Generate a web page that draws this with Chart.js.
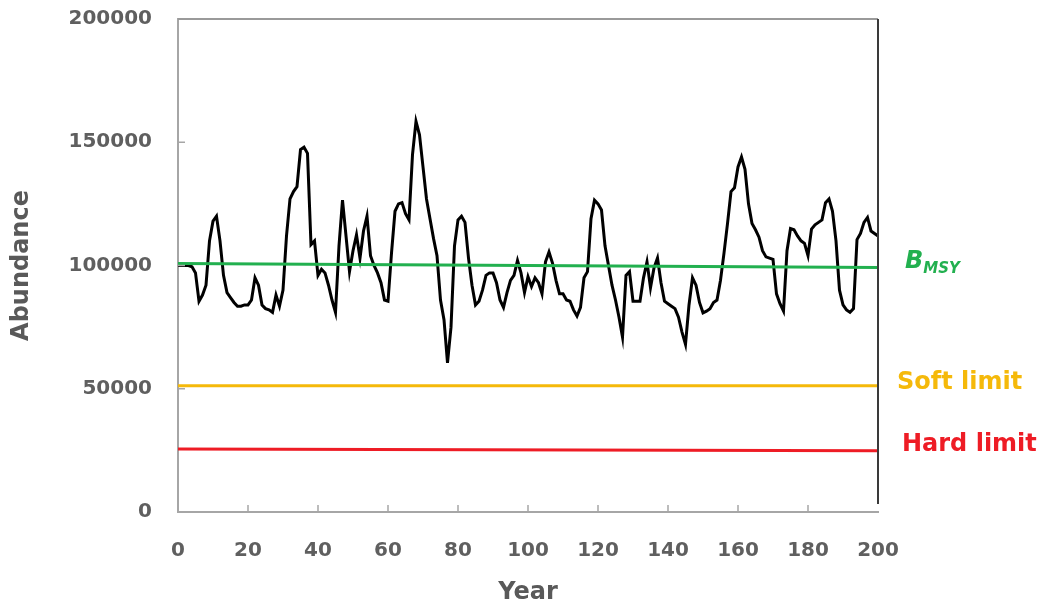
<!DOCTYPE html>
<html>
<head>
<meta charset="utf-8">
<script src="https://cdn.jsdelivr.net/npm/chart.js@4.4.1/dist/chart.umd.min.js"></script>
<style>
  html, body { margin: 0; padding: 0; background: #ffffff; }
  #wrap { width: 1048px; height: 605px; }
</style>
</head>
<body>
<div id="wrap"><canvas id="c" width="1048" height="605"></canvas></div>
<script>
// Years 0..200 (x categories)
const years = Array.from({length: 201}, (_, i) => i);

// Simulated abundance (one value per year)
const abundance = [
  100000,100000,100000,100000,99500,97000,85500,88000,92000,110000,
  118000,120000,110000,96000,89000,87000,85000,83500,83500,84000,
  84000,86000,95000,92000,84000,82500,82000,81000,88000,83500,
  90000,112000,127000,130000,132000,147000,148000,145500,108500,110000,
  96000,98500,97000,92000,86000,81000,108000,126500,112000,97500,
  106000,112500,103000,114000,120000,104000,100000,97000,93000,86000,
  85500,105000,122000,125000,125500,121000,118500,145000,158500,153000,
  140000,127000,119000,111000,104000,86000,78000,60500,75000,108000,
  118500,120000,117500,103000,92000,84000,85500,90000,96000,97000,
  97000,93000,86000,83000,89000,94000,96000,102000,97000,89000,
  95500,91500,95000,93000,88500,101500,105500,101000,94000,88500,
  88500,86000,85500,82000,79500,83000,95000,97500,119000,126500,
  125000,122500,108000,100000,92000,86000,79000,71000,96000,97500,
  85500,85500,85500,95000,101500,91000,99000,103000,93000,85500,
  84500,83500,82500,79000,73000,68000,84000,95000,92000,85000,
  80800,81500,82500,85000,86000,94000,105000,117000,130000,131500,
  140000,144000,139000,125000,117000,114500,111500,106000,103500,103000,
  102500,88500,84500,81500,106000,115000,114500,112000,110000,109000,
  104000,114800,116500,117500,118500,125500,127000,122000,110000,90000,
  84000,82000,81000,82500,110500,113000,117500,119500,114000,113000,
  112000
];

// Reference levels (start year, end year)
const refYears = [0, 200];
const bmsy = [100800, 99200];
const softLimit = [51200, 51200];
const hardLimit = [25600, 24800];

const yTicks = [0, 50000, 100000, 150000, 200000];
const xTicks = [0, 20, 40, 60, 80, 100, 120, 140, 160, 180, 200];

const refLabels = [
  { text: 'B', sub: 'MSY', color: '#22b04f', dataset: 1, dx: 27, dy: -6 },
  { text: 'Soft limit', color: '#f5b90a', dataset: 2, dx: 19, dy: -3 },
  { text: 'Hard limit', color: '#ee1c25', dataset: 3, dx: 24, dy: -6 }
];

const pts = (xs, ys) => ys.map((v, i) => ({ x: xs[i], y: v }));

const TICK_COLOR = '#5f5f5f';
const AXIS_COLOR = '#a6a6a6';
const FONT = '"DejaVu Sans", sans-serif';

const framePlugin = {
  id: 'frame',
  afterDraw(chart) {
    const ctx = chart.ctx;
    const a = chart.chartArea;
    const xs = chart.scales.x, ys = chart.scales.y;
    ctx.save();
    // top and right frame
    ctx.lineWidth = 2;
    ctx.strokeStyle = '#9a9a9a';
    ctx.beginPath(); ctx.moveTo(a.left, a.top); ctx.lineTo(a.right, a.top); ctx.stroke();
    ctx.strokeStyle = '#3a3a3a';
    ctx.beginPath(); ctx.moveTo(a.right, a.top); ctx.lineTo(a.right, a.bottom - 8); ctx.stroke();
    // inward tick marks
    ctx.strokeStyle = AXIS_COLOR;
    ctx.lineWidth = 1.5;
    xTicks.forEach(t => {
      if (t === 0 || t === 200) return;
      const px = xs.getPixelForValue(t);
      ctx.beginPath(); ctx.moveTo(px, a.bottom); ctx.lineTo(px, a.bottom - 7); ctx.stroke();
    });
    yTicks.forEach(t => {
      if (t === 0 || t === 200000) return;
      const py = ys.getPixelForValue(t);
      ctx.beginPath(); ctx.moveTo(a.left, py); ctx.lineTo(a.left + 7, py); ctx.stroke();
    });
    // right-hand labels
    refLabels.forEach(l => {
      const data = chart.data.datasets[l.dataset].data;
      const last = data[data.length - 1];
      const px = xs.getPixelForValue(last.x) + l.dx;
      const py = ys.getPixelForValue(last.y) + l.dy;
      ctx.fillStyle = l.color;
      ctx.textBaseline = 'middle';
      ctx.textAlign = 'left';
      if (l.sub) {
        ctx.font = 'italic bold 24px ' + FONT;
        ctx.fillText(l.text, px, py);
        const w = ctx.measureText(l.text).width;
        ctx.font = 'italic bold 15px ' + FONT;
        ctx.fillText(l.sub, px + w, py + 8);
      } else {
        ctx.font = 'bold 24px ' + FONT;
        ctx.fillText(l.text, px, py);
      }
    });
    ctx.restore();
  }
};

new Chart(document.getElementById('c'), {
  type: 'line',
  data: {
    datasets: [
      { label: 'Abundance', data: pts(years, abundance), borderColor: '#000000', borderWidth: 3, pointRadius: 0, tension: 0, order: 2 },
      { label: 'BMSY', data: pts(refYears, bmsy), borderColor: '#22b04f', borderWidth: 3, pointRadius: 0, order: 1 },
      { label: 'Soft limit', data: pts(refYears, softLimit), borderColor: '#f5b90a', borderWidth: 3, pointRadius: 0, order: 1 },
      { label: 'Hard limit', data: pts(refYears, hardLimit), borderColor: '#ee1c25', borderWidth: 3, pointRadius: 0, order: 1 }
    ]
  },
  options: {
    responsive: false,
    animation: false,
    layout: { padding: { left: 0, right: 170, top: 19, bottom: 0 }, autoPadding: false },
    plugins: { legend: { display: false }, tooltip: { enabled: false } },
    scales: {
      x: {
        type: 'linear', min: 0, max: 200,
        afterFit: s => { s.height = 93; s.paddingLeft = 0; s.paddingRight = 0; },
        afterBuildTicks: s => { s.ticks = xTicks.map(v => ({ value: v })); },
        grid: { display: false, drawTicks: false },
        border: { display: true, color: AXIS_COLOR, width: 2 },
        ticks: { color: TICK_COLOR, font: { family: FONT, size: 20, weight: 'bold' }, padding: 27, maxRotation: 0 },
        title: { display: true, text: 'Year', color: '#595959', font: { family: FONT, size: 24, weight: 'bold', lineHeight: 1 }, padding: { top: 0, bottom: 0 } }
      },
      y: {
        min: 0, max: 200000,
        afterFit: s => { s.width = 178; s.paddingTop = 0; s.paddingBottom = 0; },
        afterBuildTicks: s => { s.ticks = yTicks.map(v => ({ value: v })); },
        grid: { display: false, drawTicks: false },
        border: { display: true, color: AXIS_COLOR, width: 2 },
        ticks: { color: TICK_COLOR, font: { family: FONT, size: 20, weight: 'bold' }, padding: 26, callback: v => String(v) },
        title: { display: true, text: 'Abundance', color: '#595959', font: { family: FONT, size: 24, weight: 'bold', lineHeight: 1 }, padding: { top: 10, bottom: 0 } }
      }
    }
  },
  plugins: [framePlugin]
});
</script>
</body>
</html>
